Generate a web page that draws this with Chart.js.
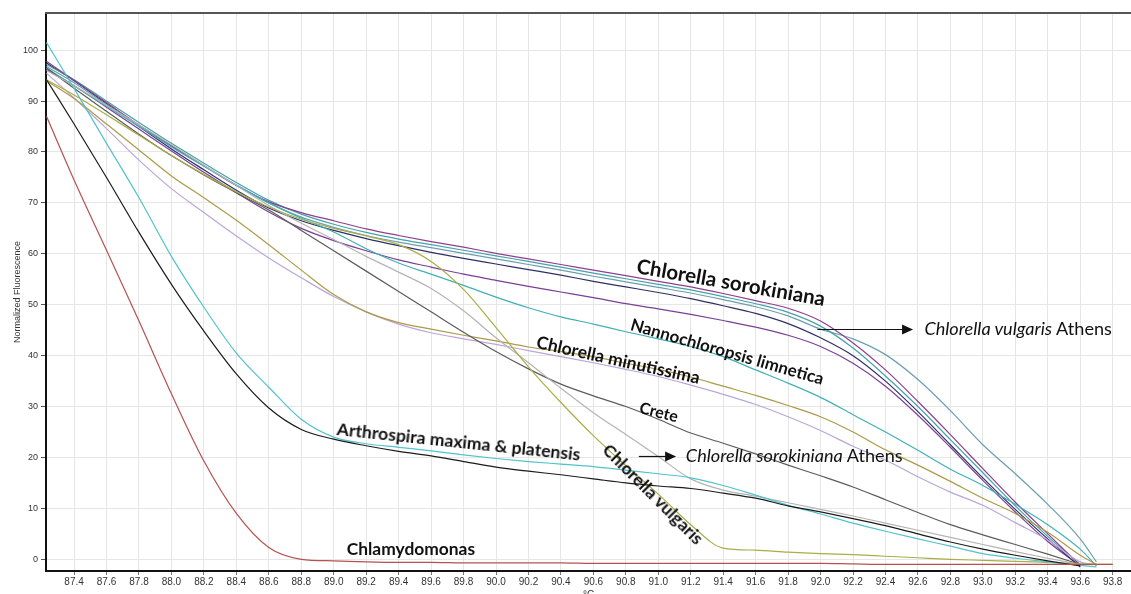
<!DOCTYPE html>
<html><head><meta charset="utf-8">
<script src="https://cdn.jsdelivr.net/npm/chart.js@4"></script>
<style>
html,body{margin:0;padding:0;background:#fff;overflow:hidden;}
#wrap{position:relative;width:1131px;height:601px;}
.lbl{position:absolute;white-space:nowrap;transform-origin:0 50%;color:#111;font-family:Lato,'Open Sans',sans-serif;}
.lbl.b{font-weight:700;}
</style></head><body>
<div id="wrap"><canvas id="c"></canvas></div>
<script>
// Temperatures (°C)
const temps = [87.23, 87.4, 87.6, 87.8, 88.0, 88.2, 88.4, 88.6, 88.8, 89.0, 89.2, 89.4, 89.6, 89.8, 90.0, 90.2, 90.4, 90.6, 90.8, 91.0, 91.2, 91.4, 91.6, 91.8, 92.0, 92.2, 92.4, 92.6, 92.8, 93.0, 93.2, 93.4, 93.6, 93.7, 93.8];
// Normalized fluorescence per sample
const chlamydomonas = [87.0, 74.5, 60.7, 46.8, 32.5, 19.3, 9.0, 2.3, 0.0, -0.3, -0.5, -0.6, -0.6, -0.7, -0.7, -0.7, -0.7, -0.8, -0.8, -0.8, -0.8, -0.8, -0.8, -0.8, -0.8, -0.9, -1.0, -1.0, -1.0, -1.0, -1.0, -1.0, -1.0, -1.0, -1.0];
const arthrospiraMaxima = [94.2, 85.5, 75.0, 64.2, 54.0, 44.8, 36.4, 29.7, 25.5, 23.6, 22.3, 21.2, 20.3, 19.2, 18.1, 17.3, 16.6, 15.8, 15.0, 14.4, 13.9, 13.0, 12.0, 10.5, 9.3, 8.0, 6.6, 5.0, 3.4, 2.0, 0.8, -0.3, -1.3, null, null];
const arthrospiraPlatensis = [101.5, 92.5, 81.7, 71.0, 59.5, 49.5, 40.5, 33.8, 27.5, 24.0, 22.7, 22.0, 21.3, 20.5, 19.8, 19.2, 18.7, 18.2, 17.5, 16.8, 16.0, 14.5, 12.6, 10.6, 8.9, 7.1, 5.5, 4.0, 2.6, 1.1, 0.2, -0.5, -1.2, -1.5, null];
const chlorellaVulgaris = [94.2, 91.2, 87.3, 83.3, 79.3, 75.6, 72.2, 69.2, 66.8, 65.0, 63.5, 61.8, 58.5, 53.0, 45.5, 37.8, 30.8, 24.3, 18.4, 12.8, 6.8, 2.2, 1.8, 1.4, 1.1, 0.9, 0.6, 0.3, 0.0, -0.2, -0.4, -0.6, -0.9, -1.0, -1.0];
const sorokinianaAthens = [96.0, 93.0, 89.2, 85.3, 81.4, 77.4, 73.4, 69.5, 66.0, 62.8, 59.5, 56.4, 53.2, 48.8, 43.5, 38.6, 33.6, 28.8, 24.5, 20.2, 15.8, 13.6, 12.4, 11.1, 9.8, 8.5, 7.1, 5.7, 4.3, 2.9, 1.5, 0.2, -1.0, null, null];
const crete = [96.5, 92.5, 88.0, 83.5, 79.3, 75.5, 72.0, 68.6, 64.6, 60.6, 56.6, 52.6, 48.6, 44.6, 40.8, 37.4, 34.4, 32.1, 30.0, 27.5, 24.8, 22.8, 20.7, 18.5, 16.4, 14.2, 11.7, 9.2, 6.8, 4.8, 2.9, 1.0, -1.0, null, null];
const minutissimaA = [94.0, 90.5, 85.5, 80.4, 75.3, 71.0, 66.6, 61.8, 56.8, 52.0, 48.6, 46.5, 45.2, 44.0, 42.9, 41.7, 40.8, 39.8, 38.5, 37.3, 35.8, 34.0, 32.2, 30.2, 28.0, 25.0, 21.5, 18.5, 15.3, 12.0, 9.0, 5.3, 0.8, -1.0, null];
const minutissimaB = [95.5, 90.6, 84.6, 78.4, 72.8, 68.1, 63.5, 59.2, 55.3, 51.6, 48.6, 46.2, 44.5, 43.3, 42.2, 41.0, 39.8, 38.6, 37.3, 35.9, 34.2, 32.4, 30.4, 28.0, 25.3, 22.2, 19.5, 16.2, 13.2, 10.6, 7.2, 3.8, -0.5, -1.0, null];
const nannochloropsis = [96.5, 93.0, 89.0, 85.0, 81.0, 77.2, 73.5, 70.0, 67.0, 64.3, 61.0, 58.2, 56.0, 53.8, 51.5, 49.4, 47.6, 46.2, 44.7, 43.3, 41.8, 39.8, 37.2, 34.6, 31.8, 28.4, 25.0, 21.4, 17.7, 14.5, 10.8, 6.8, 2.0, -1.3, null];
const sorokinianaA = [97.8, 94.1, 89.7, 85.3, 81.2, 77.3, 73.4, 70.2, 68.1, 66.5, 64.9, 63.6, 62.4, 61.3, 60.1, 59.0, 57.9, 56.8, 55.7, 54.6, 53.5, 52.2, 50.8, 49.3, 46.8, 42.5, 37.2, 31.0, 24.5, 17.8, 11.2, 5.0, -1.2, null, null];
const sorokinianaB = [97.2, 94.2, 90.0, 85.8, 81.7, 77.8, 74.0, 70.5, 67.8, 65.8, 64.2, 62.9, 61.8, 60.7, 59.6, 58.5, 57.4, 56.2, 55.1, 54.0, 52.9, 51.6, 50.2, 48.5, 45.8, 41.5, 36.0, 30.0, 23.5, 17.0, 10.5, 4.5, -1.0, null, null];
const vulgarisAthens = [96.8, 93.6, 89.3, 85.2, 81.2, 77.3, 73.5, 70.0, 67.2, 65.2, 63.6, 62.3, 61.2, 60.1, 59.0, 57.9, 56.8, 55.6, 54.5, 53.4, 52.3, 51.0, 49.6, 47.8, 45.2, 43.3, 40.2, 35.3, 29.2, 22.5, 16.8, 10.8, 4.0, -0.5, null];
const sorokinianaC = [97.5, 94.0, 89.5, 85.0, 80.6, 76.5, 72.5, 69.0, 66.5, 64.6, 63.0, 61.6, 60.3, 59.1, 58.0, 56.9, 55.8, 54.6, 53.5, 52.4, 51.2, 49.8, 48.3, 46.3, 43.5, 40.0, 35.0, 29.0, 22.5, 16.0, 9.8, 4.0, -1.5, null, null];
const sorokinianaD = [96.2, 93.0, 88.8, 84.5, 80.2, 76.0, 72.0, 68.2, 65.0, 62.6, 60.6, 58.8, 57.4, 56.0, 54.8, 53.6, 52.5, 51.4, 50.2, 49.2, 48.1, 46.9, 45.6, 44.0, 41.8, 38.5, 34.0, 28.3, 22.0, 15.5, 9.3, 3.5, -1.3, null, null];

const seriesNames = ['Chlamydomonas','Arthrospira maxima','Arthrospira platensis','Chlorella vulgaris','Chlorella sorokiniana Athens','Crete','Chlorella minutissima 1','Chlorella minutissima 2','Nannochloropsis limnetica','Chlorella sorokiniana 1','Chlorella sorokiniana 2','Chlorella vulgaris Athens','Chlorella sorokiniana 3','Chlorella sorokiniana 4'];
const seriesValues = [chlamydomonas, arthrospiraMaxima, arthrospiraPlatensis, chlorellaVulgaris, sorokinianaAthens, crete, minutissimaA, minutissimaB, nannochloropsis, sorokinianaA, sorokinianaB, vulgarisAthens, sorokinianaC, sorokinianaD];
const seriesColors = ['#b5524f','#1c1c1c','#52c3cb','#aaae46','#b4b4b4','#5c5c5c','#ad9a48','#bba6d8','#3fb1b6','#8e3f8e','#45a2aa','#6a9fae','#2f2f66','#7a3f96'];

const xTickValues = [];
for (let i = 0; i <= 32; i++) xTickValues.push(+(87.4 + i * 0.2).toFixed(1));
const yTickValues = [0, 10, 20, 30, 40, 50, 60, 70, 80, 90, 100];

// Annotations (anchored in data coordinates)
const labels = [
  {html:'Chlorella sorokiniana', t:90.87, v:57.8, angle:10, size:20.5, bold:true},
  {html:'Nannochloropsis limnetica', t:90.83, v:46.2, angle:16, size:17, bold:true},
  {html:'Chlorella minutissima', t:90.25, v:42.7, angle:12.5, size:17.5, bold:true},
  {html:'Crete', t:90.89, v:30.0, angle:14, size:16, bold:true},
  {html:'Arthrospira maxima &amp; platensis', t:89.02, v:25.6, angle:6, size:17.6, bold:true},
  {html:'Chlorella vulgaris', t:90.68, v:22.2, angle:45, size:17.6, bold:true},
  {html:'Chlamydomonas', t:89.08, v:2.0, angle:0, size:17.4, bold:true},
  {html:'<i>Chlorella sorokiniana</i> Athens', t:91.17, v:20.3, angle:0, size:18.1, bold:false},
  {html:'<i>Chlorella vulgaris</i> Athens', t:92.64, v:45.2, angle:0, size:18.1, bold:false}
];
const arrows = [
  {from:90.88, to:91.11, v:20.3},
  {from:91.98, to:92.57, v:45.2}
];

const wrap = document.getElementById('wrap');
const labelEls = labels.map(L => {
  const d = document.createElement('div');
  d.className = 'lbl' + (L.bold ? ' b' : '');
  d.style.fontSize = L.size + 'px';
  d.style.lineHeight = (L.size * 1.2) + 'px';
  d.style.transform = 'rotate(' + L.angle + 'deg)';
  d.innerHTML = L.html;
  wrap.appendChild(d);
  return d;
});

const overlay = {
  id: 'overlay',
  afterDraw(chart) {
    const {ctx, chartArea, scales} = chart;
    const x = scales.x, y = scales.y;
    ctx.save();
    ctx.strokeStyle = '#555';
    ctx.lineWidth = 2;
    ctx.beginPath();
    ctx.moveTo(chartArea.left - 1, chartArea.top);
    ctx.lineTo(chartArea.right, chartArea.top);
    ctx.stroke();
    ctx.strokeStyle = '#111';
    ctx.fillStyle = '#111';
    ctx.lineWidth = 1.2;
    arrows.forEach(a => {
      const x0 = x.getPixelForValue(a.from), x1 = x.getPixelForValue(a.to), yy = Math.round(y.getPixelForValue(a.v)) + 0.5;
      ctx.beginPath(); ctx.moveTo(x0, yy); ctx.lineTo(x1 - 8, yy); ctx.stroke();
      ctx.beginPath(); ctx.moveTo(x1, yy); ctx.lineTo(x1 - 11, yy - 5); ctx.lineTo(x1 - 11, yy + 5); ctx.closePath(); ctx.fill();
    });
    ctx.restore();
    labels.forEach((L, i) => {
      const el = labelEls[i];
      el.style.left = x.getPixelForValue(L.t) + 'px';
      el.style.top = (y.getPixelForValue(L.v) - L.size * 0.6) + 'px';
    });
  }
};

const datasets = seriesValues.map((vals, i) => ({
  label: seriesNames[i],
  data: temps.map((t, j) => vals[j] === null ? null : {x: t, y: vals[j]}).filter(p => p),
  borderColor: seriesColors[i],
  backgroundColor: seriesColors[i],
  borderWidth: 1.2,
  pointRadius: 0,
  fill: false,
  cubicInterpolationMode: 'monotone'
}));

new Chart(document.getElementById('c'), {
  type: 'line',
  data: {datasets},
  plugins: [overlay],
  options: {
    responsive: true,
    maintainAspectRatio: false,
    animation: false,
    layout: {padding: {left: 0, top: 13, right: 0, bottom: 0}},
    plugins: {legend: {display: false}, tooltip: {enabled: false}},
    scales: {
      x: {
        type: 'linear',
        min: 87.227,
        max: 93.913,
        afterBuildTicks: s => { s.ticks = xTickValues.map(v => ({value: v})); },
        ticks: {autoSkip: false, maxRotation: 0, minRotation: 0, padding: 1, color: '#333',
          font: {family: "'Liberation Sans', Arial, sans-serif", size: 10},
          callback: v => Number(v).toFixed(1)},
        grid: {color: '#e6e6e6', lineWidth: 1, tickLength: 4, tickColor: '#777'},
        border: {color: '#111', width: 2},
        title: {display: true, text: '°C', color: '#333', padding: {top: 0, bottom: 0},
          font: {family: "'Liberation Sans', Arial, sans-serif", size: 10}}
      },
      y: {
        type: 'linear',
        min: -2.3,
        max: 107.3,
        afterBuildTicks: s => { s.ticks = yTickValues.map(v => ({value: v})); },
        afterFit: s => { s.width = 46; },
        ticks: {color: '#333', padding: 3,
          font: {family: "'Liberation Sans', Arial, sans-serif", size: 9}},
        grid: {color: '#e6e6e6', lineWidth: 1, tickLength: 5, tickColor: '#555'},
        border: {color: '#111', width: 2},
        title: {display: true, text: 'Normalized Fluorescence', color: '#333', padding: {top: 12.5, bottom: 0},
          font: {family: "'Liberation Sans', Arial, sans-serif", size: 9}}
      }
    }
  }
});
</script>
</body></html>
